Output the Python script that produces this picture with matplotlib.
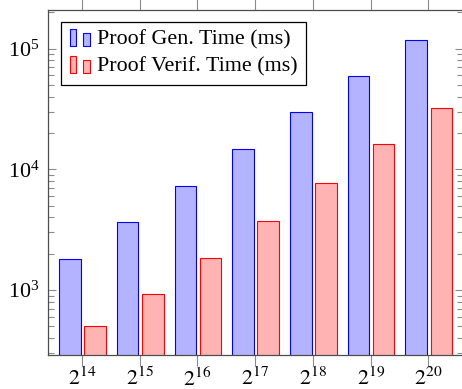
import matplotlib
matplotlib.use("Agg")
import matplotlib.pyplot as plt
from matplotlib.patches import Rectangle
from matplotlib.legend_handler import HandlerBase
from matplotlib.ticker import FixedLocator, LogLocator, NullFormatter

# data (ms)
sizes = ["$2^{14}$", "$2^{15}$", "$2^{16}$", "$2^{17}$", "$2^{18}$", "$2^{19}$", "$2^{20}$"]
gen_time = [1810, 3660, 7330, 14700, 29700, 59600, 118800]
verif_time = [501, 929, 1855, 3760, 7760, 16100, 32300]
labels = ["Proof Gen. Time (ms)", "Proof Verif. Time (ms)"]

plt.rcParams["font.family"] = ["Liberation Serif", "DejaVu Serif"]
plt.rcParams["mathtext.fontset"] = "stix"
plt.rcParams["font.size"] = 15.8

blue_fill, blue_edge = "#b3b3ff", "#0000ff"
red_fill, red_edge = "#ffb3b3", "#ff0000"


class BarPairHandler(HandlerBase):
    # pgfplots-like ybar legend icon: two little bars
    def create_artists(self, legend, orig_handle, xdescent, ydescent,
                       width, height, fontsize, trans):
        fc = orig_handle.get_facecolor()
        ec = orig_handle.get_edgecolor()
        w = width * 0.32
        y0 = -ydescent - height * 0.2
        r1 = Rectangle((-xdescent, y0), w, height * 1.3,
                       facecolor=fc, edgecolor=ec, lw=0.8, transform=trans)
        r2 = Rectangle((-xdescent + width * 0.66, y0), w, height * 1.0,
                       facecolor=fc, edgecolor=ec, lw=0.8, transform=trans)
        return [r1, r2]


fig = plt.figure(figsize=(4.62, 3.89), dpi=100)
ax = fig.add_axes([48 / 462, 1 - 355 / 389, 415 / 462, 345 / 389])

x = list(range(len(sizes)))
bw = 0.373
ax.bar([i - 0.21 for i in x], gen_time, width=bw, color=blue_fill,
       edgecolor=blue_edge, linewidth=0.8, zorder=2)
ax.bar([i + 0.225 for i in x], verif_time, width=bw, color=red_fill,
       edgecolor=red_edge, linewidth=0.8, zorder=2)

ax.set_yscale("log")
ax.set_ylim(290, 209000)
ax.set_xlim(-0.59, 6.6)

ax.xaxis.set_major_locator(FixedLocator(x))
ax.set_xticklabels(sizes)
ax.yaxis.set_major_locator(LogLocator(base=10, numticks=10))
ax.yaxis.set_minor_locator(LogLocator(base=10, subs=range(2, 10), numticks=20))
ax.yaxis.set_minor_formatter(NullFormatter())

ax.tick_params(axis="x", which="both", direction="out", top=True, bottom=True,
               length=8, width=0.8, color="0.55", pad=1, labelsize=15.8)
ax.tick_params(axis="y", which="major", direction="in", left=True, right=True,
               length=6, width=0.8, color="0.55", pad=6, labelsize=15.8)
ax.tick_params(axis="y", which="minor", direction="in", left=True, right=True,
               length=4, width=0.8, color="0.55")
for s in ax.spines.values():
    s.set_linewidth(0.9)
    s.set_color("0.3")

proxies = [Rectangle((0, 0), 1, 1, facecolor=blue_fill, edgecolor=blue_edge),
           Rectangle((0, 0), 1, 1, facecolor=red_fill, edgecolor=red_edge)]
leg = ax.legend(proxies, labels, handler_map={Rectangle: BarPairHandler()},
                loc="upper left", bbox_to_anchor=(0.031, 0.966),
                fancybox=False, framealpha=1, edgecolor="black",
                handlelength=0.95, handleheight=0.55, handletextpad=0.3,
                borderpad=0.4, labelspacing=0.32, borderaxespad=0,
                fontsize=15.8)
leg.get_frame().set_linewidth(0.9)

fig.savefig("out.png", dpi=100)
